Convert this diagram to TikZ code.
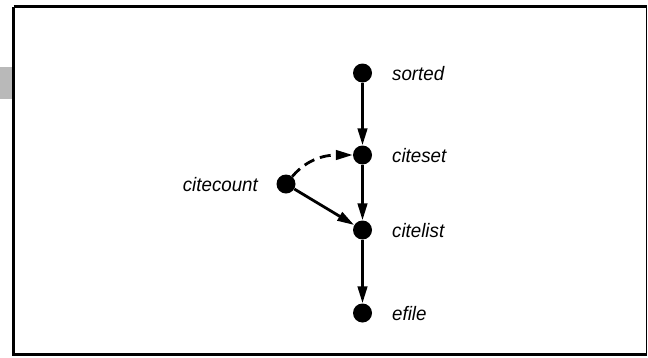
\documentclass[tikz,border=0pt]{standalone}
\usepackage{fontspec}
\setmainfont{Liberation Sans}[FakeStretch=0.96]
\usetikzlibrary{arrows.meta}
\begin{document}
\begin{tikzpicture}[x=1pt,y=-1pt,
  vertex/.style={circle,fill=black,inner sep=0pt,minimum size=19pt},
  lbl/.style={font=\fontsize{19.5}{22}\selectfont\itshape,inner sep=0pt},
  edge/.style={line width=2.8pt,-{Triangle[length=17pt,width=9.5pt]}},
  frame/.style={line width=2.2pt}]
  \useasboundingbox (0,0) rectangle (648,357);
  % shaded tab on the left margin
  \fill[gray!55] (0,67) rectangle (12.5,99);
  % outer frame
  \draw[frame] (13.5,6.5) -- (646.5,6.5);
  \draw[frame] (13.5,6.5) -- (13.5,354.5) -- (646.5,354.5);
  \draw[line width=1pt] (646.5,6.5) -- (646.5,354.5);
  % vertices
  \node[vertex] (sorted)    at (362.5,73)  {};
  \node[vertex] (citeset)   at (362.5,155) {};
  \node[vertex] (citelist)  at (362.5,230) {};
  \node[vertex] (efile)     at (362.5,313) {};
  \node[vertex] (citecount) at (286,184)   {};
  % labels
  \node[lbl,anchor=base west] (lsorted)   at (392,80)  {sorted};
  \node[lbl,anchor=base west] (lciteset)  at (392,162) {citeset};
  \node[lbl,anchor=base west] (lcitelist) at (392,237) {citelist};
  \node[lbl,anchor=base west] (lefile)    at (392,320) {efile};
  \node[lbl,anchor=base east] (lcitecount) at (258,191) {citecount};
  % edges
  \draw[edge] (sorted) -- (citeset);
  \draw[edge] (citeset) -- (citelist);
  \draw[edge] (citelist) -- (efile);
  \draw[edge] (citecount) -- (citelist);
  \draw[edge,dash pattern=on 11pt off 6pt] (citecount) to[out=50,in=180] (citeset);
\end{tikzpicture}
\end{document}
